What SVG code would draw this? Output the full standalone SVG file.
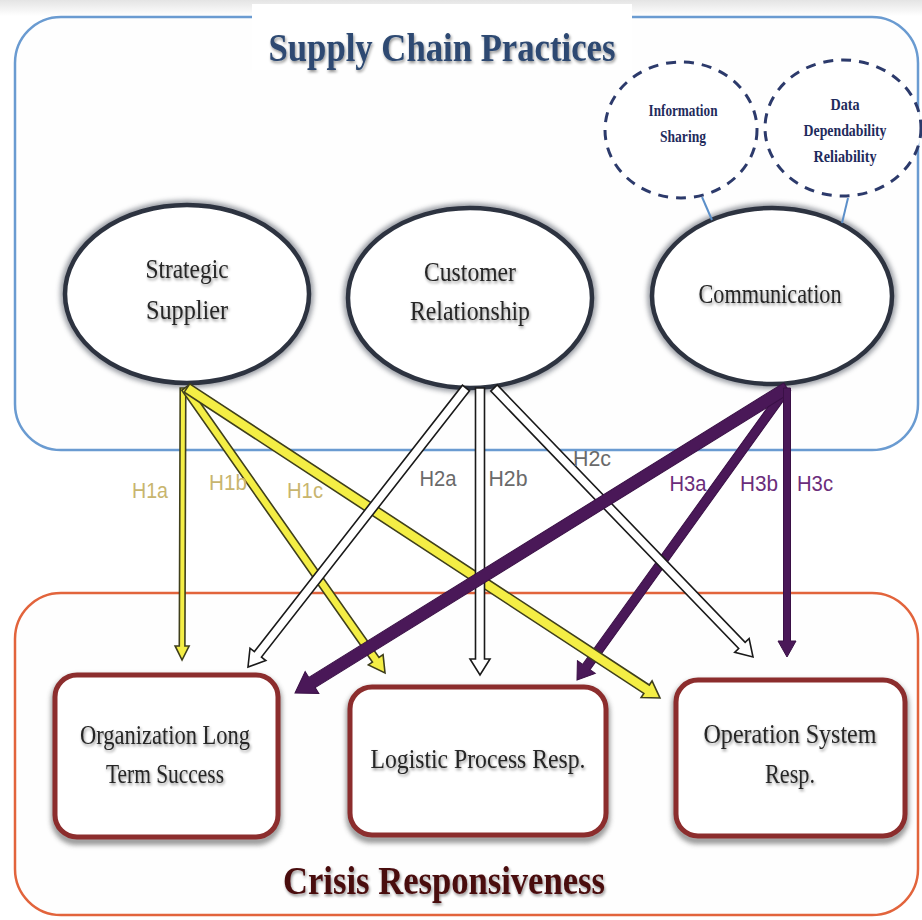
<svg xmlns="http://www.w3.org/2000/svg" width="922" height="920" viewBox="0 0 922 920">
<defs>
<linearGradient id="topfade" x1="0" y1="0" x2="0" y2="1">
<stop offset="0" stop-color="#e4e4e4"/>
<stop offset="1" stop-color="#ffffff"/>
</linearGradient>
<filter id="soft" x="-20%" y="-20%" width="140%" height="140%">
<feGaussianBlur stdDeviation="2.5"/>
</filter>
<filter id="tshadow" x="-10%" y="-30%" width="120%" height="160%">
<feGaussianBlur in="SourceAlpha" stdDeviation="1.5"/>
<feOffset dx="1" dy="2" result="b"/>
<feComponentTransfer><feFuncA type="linear" slope="0.45"/></feComponentTransfer>
<feMerge><feMergeNode/><feMergeNode in="SourceGraphic"/></feMerge>
</filter>
<style>
.serif{font-family:"Liberation Serif","Times New Roman",serif;}
.title{font-size:39px;font-weight:bold;text-anchor:middle;}
.node-ell{fill:#ffffff;stroke:#2d3340;stroke-width:4.5;}
.ell-glow{fill:none;stroke:#4a4f5c;stroke-width:10;opacity:0.55;}
.ell-text{font-size:27px;fill:#262626;text-anchor:middle;}
.dash{fill:#ffffff;stroke:#2c3a6b;stroke-width:3;stroke-dasharray:10 8;}
.dash-text{font-size:16px;font-weight:bold;fill:#1f2b5c;text-anchor:middle;}
.box{fill:#ffffff;stroke:#8c2d2d;stroke-width:5;}
.box-shadow{fill:none;stroke:#555;stroke-width:8;opacity:0.6;}
.box-text{font-size:27px;fill:#262626;text-anchor:middle;}
.yel{fill:#f4ee45;stroke:#3f3f1c;stroke-width:1.6;stroke-linejoin:miter;}
.wht{fill:#ffffff;stroke:#1a1a1a;stroke-width:1.6;stroke-linejoin:miter;}
.pur{fill:#4a1858;stroke:#3a1046;stroke-width:1;}
.lbl{font-family:"Liberation Sans",Arial,sans-serif;font-size:22px;text-anchor:middle;}
.l1{fill:#c8b56e;}
.l2{fill:#6a6a6a;}
.l3{fill:#6b2d7b;}
.link{fill:none;stroke:#5b8fc9;stroke-width:2;}
</style>
</defs>

<rect x="0" y="0" width="922" height="920" fill="#ffffff"/>
<rect x="0" y="0" width="922" height="16" fill="url(#topfade)"/>

<g id="supply-chain-practices">
<rect x="15" y="17" width="903" height="433" rx="46" ry="46" fill="#fefefe" stroke="#6a9bd1" stroke-width="2.5"/>
<rect x="252" y="4" width="380" height="66" fill="#ffffff"/>
<text class="serif title" x="442" y="61" fill="#2e4a72" textLength="347" lengthAdjust="spacingAndGlyphs" filter="url(#tshadow)">Supply Chain Practices</text>
</g>

<g id="crisis-responsiveness">
<rect x="15" y="593" width="903" height="322" rx="46" ry="46" fill="#fefefe" stroke="#e2643c" stroke-width="2.5"/>
<text class="serif title" x="444" y="894" fill="#4a0a0e" textLength="322" lengthAdjust="spacingAndGlyphs" filter="url(#tshadow)">Crisis Responsiveness</text>
</g>

<g id="information-sharing">
<ellipse class="dash" cx="681" cy="130" rx="76" ry="68"/>
<text class="serif dash-text" x="683" y="116" textLength="69" lengthAdjust="spacingAndGlyphs">Information</text>
<text class="serif dash-text" x="683" y="142" textLength="46" lengthAdjust="spacingAndGlyphs">Sharing</text>
</g>

<g id="data-dependability">
<ellipse class="dash" cx="843" cy="128" rx="78" ry="68"/>
<text class="serif dash-text" x="845" y="110" textLength="29" lengthAdjust="spacingAndGlyphs">Data</text>
<text class="serif dash-text" x="845" y="136" textLength="83" lengthAdjust="spacingAndGlyphs">Dependability</text>
<text class="serif dash-text" x="845" y="162" textLength="63" lengthAdjust="spacingAndGlyphs">Reliability</text>
</g>

<g id="strategic-supplier">
<ellipse class="ell-glow" cx="187" cy="294" rx="122" ry="89" filter="url(#soft)"/>
<ellipse class="node-ell" cx="187" cy="294" rx="122" ry="89"/>
<text class="serif ell-text" x="187" y="278" textLength="83" lengthAdjust="spacingAndGlyphs" filter="url(#tshadow)">Strategic</text>
<text class="serif ell-text" x="187" y="319" textLength="82" lengthAdjust="spacingAndGlyphs" filter="url(#tshadow)">Supplier</text>
</g>

<g id="customer-relationship">
<ellipse class="ell-glow" cx="470" cy="298" rx="122" ry="90" filter="url(#soft)"/>
<ellipse class="node-ell" cx="470" cy="298" rx="122" ry="90"/>
<text class="serif ell-text" x="470" y="281" textLength="92" lengthAdjust="spacingAndGlyphs" filter="url(#tshadow)">Customer</text>
<text class="serif ell-text" x="470" y="320" textLength="120" lengthAdjust="spacingAndGlyphs" filter="url(#tshadow)">Relationship</text>
</g>

<g id="communication">
<ellipse class="ell-glow" cx="772" cy="296" rx="120" ry="88" filter="url(#soft)"/>
<ellipse class="node-ell" cx="772" cy="296" rx="120" ry="88"/>
<text class="serif ell-text" x="770" y="303" textLength="143" lengthAdjust="spacingAndGlyphs" filter="url(#tshadow)">Communication</text>
</g>

<g id="organization-long-term-success">
<rect class="box-shadow" x="55" y="679" width="223" height="162" rx="22" filter="url(#soft)"/>
<rect class="box" x="55" y="675" width="223" height="162" rx="22"/>
<text class="serif box-text" x="165" y="744" textLength="170" lengthAdjust="spacingAndGlyphs" filter="url(#tshadow)">Organization Long</text>
<text class="serif box-text" x="165" y="783" textLength="118" lengthAdjust="spacingAndGlyphs" filter="url(#tshadow)">Term Success</text>
</g>

<g id="logistic-process-resp">
<rect class="box-shadow" x="350" y="691" width="256" height="148" rx="22" filter="url(#soft)"/>
<rect class="box" x="350" y="687" width="256" height="148" rx="22"/>
<text class="serif box-text" x="478" y="768" textLength="215" lengthAdjust="spacingAndGlyphs" filter="url(#tshadow)">Logistic Process Resp.</text>
</g>

<g id="operation-system-resp">
<rect class="box-shadow" x="676" y="684" width="229" height="156" rx="22" filter="url(#soft)"/>
<rect class="box" x="676" y="680" width="229" height="156" rx="22"/>
<text class="serif box-text" x="790" y="743" textLength="173" lengthAdjust="spacingAndGlyphs" filter="url(#tshadow)">Operation System</text>
<text class="serif box-text" x="790" y="783" textLength="50" lengthAdjust="spacingAndGlyphs" filter="url(#tshadow)">Resp.</text>
</g>

<g id="connectors">
<line class="link" x1="702" y1="197" x2="712" y2="220"/>
<line class="link" x1="848" y1="198" x2="842" y2="223"/>

<path class="pur" transform="translate(787,388) rotate(125.72)" d="M0,-4.5 H343.7 V-11 L359.7,0 L343.7,11 V4.5 H0 Z"/>

<path class="yel" transform="translate(183,388) rotate(90.2)" d="M0,-2.8 H258 V-7 L272,0 L258,7 V2.8 H0 Z"/>
<path class="yel" transform="translate(185,388) rotate(54.94)" d="M0,-4 H332 V-9 L348.2,0 L332,9 V4 H0 Z"/>
<path class="yel" transform="translate(187,388) rotate(33.24)" d="M0,-5 H549.5 V-10 L565.5,0 L549.5,10 V5 H0 Z"/>

<path class="wht" transform="translate(466,388) rotate(128.0)" d="M0,-4.5 H338 V-10 L354.1,0 L338,10 V4.5 H0 Z"/>
<path class="wht" transform="translate(480,388) rotate(90)" d="M0,-4.5 H271 V-10 L287,0 L271,10 V4.5 H0 Z"/>
<path class="wht" transform="translate(494,388) rotate(46.08)" d="M0,-4.5 H357.4 V-10 L373.4,0 L357.4,10 V4.5 H0 Z"/>

<path class="pur" transform="translate(787,388) rotate(148.2)" d="M0,-6 H558.9 V-13 L578.9,0 L558.9,13 V6 H0 Z"/>
<path class="pur" transform="translate(787,388) rotate(90)" d="M0,-3.5 H253 V-9 L269,0 L253,9 V3.5 H0 Z"/>

<text class="lbl l1" x="150" y="498" textLength="36" lengthAdjust="spacingAndGlyphs">H1a</text>
<text class="lbl l1" x="228" y="490" textLength="38" lengthAdjust="spacingAndGlyphs">H1b</text>
<text class="lbl l1" x="305" y="498" textLength="36" lengthAdjust="spacingAndGlyphs">H1c</text>
<text class="lbl l2" x="438" y="486" textLength="37" lengthAdjust="spacingAndGlyphs">H2a</text>
<text class="lbl l2" x="508" y="486" textLength="39" lengthAdjust="spacingAndGlyphs">H2b</text>
<text class="lbl l2" x="592" y="466" textLength="38" lengthAdjust="spacingAndGlyphs">H2c</text>
<text class="lbl l3" x="688" y="491" textLength="37" lengthAdjust="spacingAndGlyphs">H3a</text>
<text class="lbl l3" x="759" y="491" textLength="38" lengthAdjust="spacingAndGlyphs">H3b</text>
<text class="lbl l3" x="815" y="491" textLength="36" lengthAdjust="spacingAndGlyphs">H3c</text>
</g>
</svg>
